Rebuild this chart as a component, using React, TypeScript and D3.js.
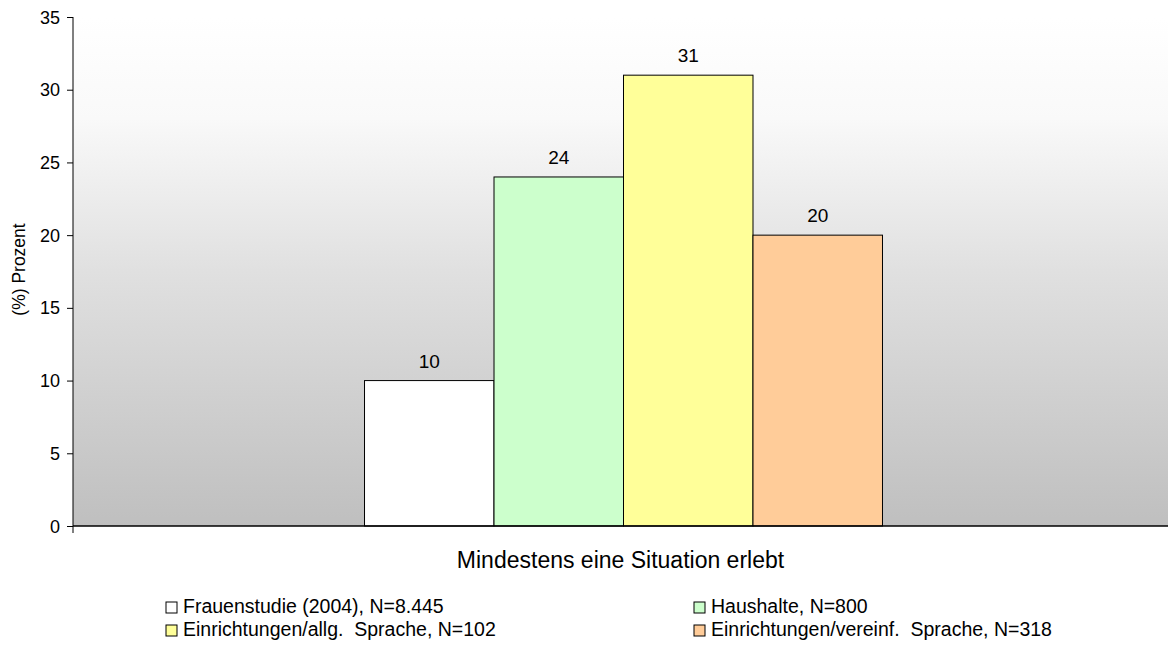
import React, { useEffect, useRef } from 'react';
import * as d3 from 'd3';

const category = 'Mindestens eine Situation erlebt';
const seriesNames = [
  'Frauenstudie (2004), N=8.445',
  'Haushalte, N=800',
  'Einrichtungen/allg.  Sprache, N=102',
  'Einrichtungen/vereinf.  Sprache, N=318',
];
const seriesValues = [10, 24, 31, 20];
const seriesColors = ['#ffffff', '#ccffcc', '#ffff99', '#ffcc99'];
const yTicks = [0, 5, 10, 15, 20, 25, 30, 35];

const W = 1168;
const H = 650;

const App: React.FC = () => {
  const ref = useRef<SVGSVGElement>(null);

  useEffect(() => {
    const svg = d3.select(ref.current);
    svg.selectAll('*').remove();

    const margin = { top: 17, right: 0, bottom: 124, left: 73 };
    const width = W - margin.left - margin.right;
    const height = H - margin.top - margin.bottom;
    const font = 'Liberation Sans, Arial, sans-serif';

    // plot background: white at the top, grey at the bottom
    const defs = svg.append('defs');
    const grad = defs.append('linearGradient')
      .attr('id', 'bg').attr('x1', 0).attr('y1', 0).attr('x2', 0).attr('y2', 1);
    grad.append('stop').attr('offset', '0%').attr('stop-color', '#ffffff');
    grad.append('stop').attr('offset', '20%').attr('stop-color', '#f9f9f9');
    grad.append('stop').attr('offset', '50%').attr('stop-color', '#e0e0e0');
    grad.append('stop').attr('offset', '100%').attr('stop-color', '#bfbfbf');

    const g = svg.append('g').attr('transform', `translate(${margin.left},${margin.top})`);

    g.append('rect').attr('width', width).attr('height', height).attr('fill', 'url(#bg)');

    const y = d3.scaleLinear().domain([0, 35]).range([height, 0]);
    const x0 = d3.scaleBand().domain([category]).range([0, width])
      .paddingInner(0).paddingOuter(0.557);
    const x1 = d3.scaleBand().domain(seriesNames).range([0, x0.bandwidth()]);

    const bars = g.append('g').attr('transform', `translate(${x0(category)! + 3},0)`);
    bars.selectAll('rect')
      .data(seriesValues)
      .enter().append('rect')
      .attr('x', (_, i) => x1(seriesNames[i])!)
      .attr('y', d => y(d))
      .attr('width', x1.bandwidth())
      .attr('height', d => height - y(d))
      .attr('fill', (_, i) => seriesColors[i])
      .attr('stroke', '#000')
      .attr('stroke-width', 1);

    bars.selectAll('text.val')
      .data(seriesValues)
      .enter().append('text')
      .attr('class', 'val')
      .attr('x', (_, i) => x1(seriesNames[i])! + x1.bandwidth() / 2)
      .attr('y', d => y(d) - 13)
      .attr('text-anchor', 'middle')
      .attr('font-family', font)
      .attr('font-size', 19)
      .attr('fill', '#000')
      .text(d => d);

    const yAxis = g.append('g')
      .call(d3.axisLeft(y).tickValues(yTicks).tickSize(6).tickPadding(7));
    yAxis.selectAll('text')
      .attr('font-family', font).attr('font-size', 18).attr('fill', '#000').attr('dy', '0.34em');
    yAxis.selectAll('line').attr('stroke', '#000');
    yAxis.select('.domain').attr('stroke', '#000').attr('d', `M0,0V${height}`);

    g.append('line')
      .attr('x1', 0).attr('x2', width).attr('y1', height).attr('y2', height)
      .attr('stroke', '#000').attr('stroke-width', 1.5);
    g.append('line')
      .attr('x1', 0).attr('x2', 0).attr('y1', height).attr('y2', height + 7)
      .attr('stroke', '#000');

    g.append('text')
      .attr('x', x0(category)! + x0.bandwidth() / 2)
      .attr('y', height + 42)
      .attr('text-anchor', 'middle')
      .attr('font-family', font)
      .attr('font-size', 23)
      .attr('fill', '#000')
      .text(category);

    svg.append('text')
      .attr('transform', `translate(25,${margin.top + height / 2 - 2}) rotate(-90)`)
      .attr('text-anchor', 'middle')
      .attr('font-family', font)
      .attr('font-size', 17.5)
      .attr('fill', '#000')
      .text('(%) Prozent');

    const legendCols = [166, 694];
    const legendRows = [613, 636];
    const legend = svg.append('g');
    seriesNames.forEach((name, i) => {
      const lx = legendCols[i % 2];
      const ly = legendRows[Math.floor(i / 2)];
      legend.append('rect')
        .attr('x', lx).attr('y', ly - 11).attr('width', 11).attr('height', 11)
        .attr('fill', seriesColors[i]).attr('stroke', '#000').attr('stroke-width', 1);
      legend.append('text')
        .attr('x', lx + 17).attr('y', ly)
        .attr('font-family', font)
        .attr('font-size', 19.5)
        .attr('fill', '#000')
        .style('white-space', 'pre')
        .text(name);
    });
  }, []);

  return (
    <svg
      ref={ref}
      width={W}
      height={H}
      style={{ position: 'absolute', left: 0, top: 0, background: '#fff' }}
    />
  );
};

export default App;
